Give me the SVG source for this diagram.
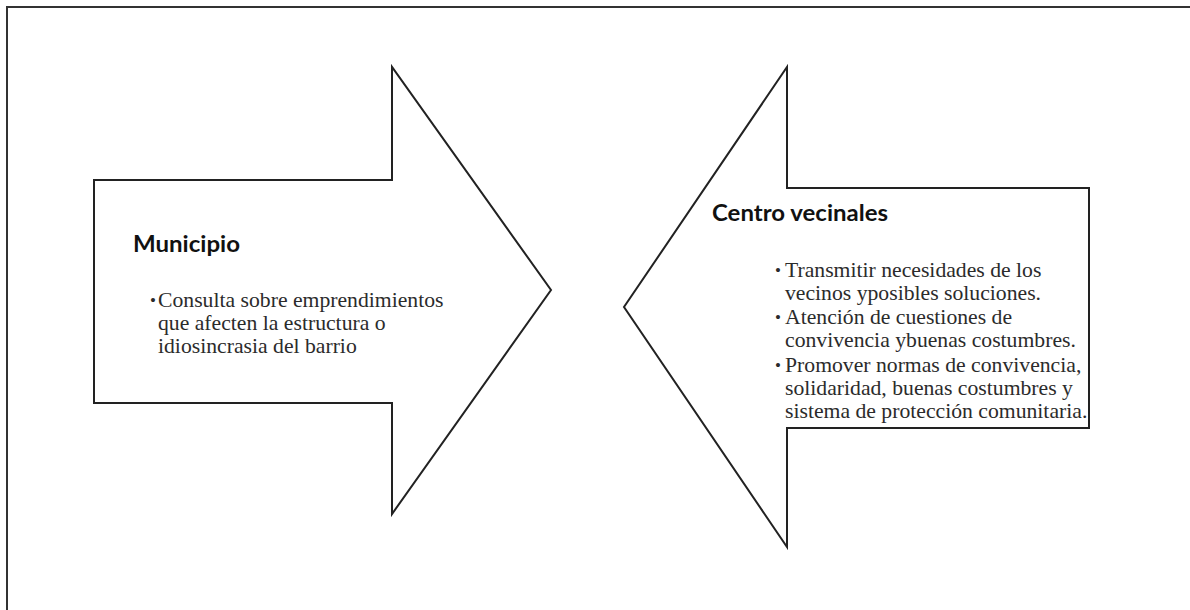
<svg xmlns="http://www.w3.org/2000/svg" width="1190" height="610" viewBox="0 0 1190 610">
  <style>
    .frame { fill: #ffffff; stroke: #333333; stroke-width: 2; }
    .arrow { fill: #ffffff; stroke: #222222; stroke-width: 2; stroke-linejoin: miter; }
    .head { font-family: Lato, "Open Sans", "Liberation Sans", sans-serif; font-weight: bold; font-size: 23px; fill: #111111; }
    .body { font-family: "Liberation Serif", "Times New Roman", serif; font-size: 21.7px; fill: #2b2b2b; }
    .bullet { font-size: 17px; }
  </style>
  <rect x="0" y="0" width="1190" height="610" fill="#ffffff"/>
  <rect class="frame" x="7" y="7" width="1200" height="620"/>

  <g id="municipio">
    <path class="arrow" d="M 94 180 L 392 180 L 392 67 L 551 290 L 392 514 L 392 403 L 94 403 Z"/>
    <text class="head" x="133" y="252" textLength="107" lengthAdjust="spacingAndGlyphs">Municipio</text>
    <text class="body">
      <tspan class="bullet" x="150" y="306">•</tspan><tspan x="158" y="307">Consulta sobre emprendimientos</tspan>
      <tspan x="158" y="330">que afecten la estructura o</tspan>
      <tspan x="158" y="353">idiosincrasia del barrio</tspan>
    </text>
  </g>

  <g id="centro-vecinales">
    <path class="arrow" d="M 1089 188 L 787 188 L 787 67 L 624 307 L 787 547 L 787 428 L 1089 428 Z"/>
    <text class="head" x="712" y="221" textLength="176" lengthAdjust="spacingAndGlyphs">Centro vecinales</text>
    <text class="body">
      <tspan class="bullet" x="775" y="276">•</tspan><tspan x="785" y="277">Transmitir necesidades de los</tspan>
      <tspan x="785" y="300">vecinos yposibles soluciones.</tspan>
      <tspan class="bullet" x="775" y="323">•</tspan><tspan x="785" y="324">Atención de cuestiones de</tspan>
      <tspan x="785" y="347">convivencia ybuenas costumbres.</tspan>
      <tspan class="bullet" x="775" y="371">•</tspan><tspan x="785" y="372">Promover normas de convivencia,</tspan>
      <tspan x="785" y="395">solidaridad, buenas costumbres y</tspan>
      <tspan x="785" y="418">sistema de protección comunitaria.</tspan>
    </text>
  </g>

  <g id="connectors"></g>
</svg>
